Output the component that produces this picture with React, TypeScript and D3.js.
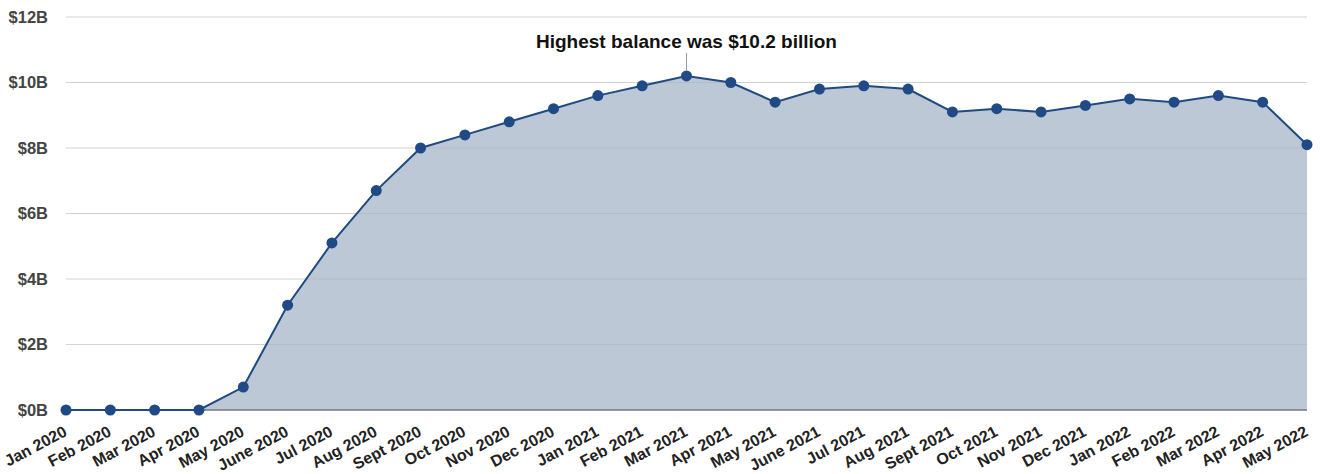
import React from "react";
import * as d3 from "d3";

const months = [
  "Jan 2020","Feb 2020","Mar 2020","Apr 2020","May 2020","June 2020","Jul 2020","Aug 2020","Sept 2020","Oct 2020","Nov 2020","Dec 2020",
  "Jan 2021","Feb 2021","Mar 2021","Apr 2021","May 2021","June 2021","Jul 2021","Aug 2021","Sept 2021","Oct 2021","Nov 2021","Dec 2021",
  "Jan 2022","Feb 2022","Mar 2022","Apr 2022","May 2022",
];
const balances = [
  0, 0, 0, 0, 0.7, 3.2, 5.1, 6.7, 8.0, 8.4, 8.8, 9.2,
  9.6, 9.9, 10.2, 10.0, 9.4, 9.8, 9.9, 9.8, 9.1, 9.2, 9.1, 9.3,
  9.5, 9.4, 9.6, 9.4, 8.1,
];
const yTicks = [0, 2, 4, 6, 8, 10, 12];
const yTickLabels = ["$0B", "$2B", "$4B", "$6B", "$8B", "$10B", "$12B"];
const annotationText = "Highest balance was $10.2 billion";
const annotationIndex = 14;

export default function App() {
  const W = 1320, H = 474;
  const left = 66, right = 1307, top = 17, bottom = 410;
  const x = d3.scalePoint<string>().domain(months).range([left, right]);
  const y = d3.scaleLinear().domain([0, 12]).range([bottom, top]);
  const data = months.map((m, i) => ({ m, v: balances[i] }));
  const area = d3.area<{ m: string; v: number }>().x(d => x(d.m)!).y0(y(0)).y1(d => y(d.v));
  const line = d3.line<{ m: string; v: number }>().x(d => x(d.m)!).y(d => y(d.v));
  const font = "'Liberation Sans', Arial, Helvetica, sans-serif";
  const ax = x(months[annotationIndex])!;
  const ay = y(balances[annotationIndex]);
  return (
    <svg width={W} height={H} style={{ position: "absolute", left: 0, top: 0, background: "#fff" }} fontFamily={font}>
      <path d={area(data)!} fill="#bcc8d5" />
      {yTicks.filter(t => t > 0).map(t => (
        <line key={t} x1={left} x2={right} y1={y(t)} y2={y(t)} stroke="#b0b4ba" strokeOpacity={0.6} strokeWidth={1} />
      ))}
      <line x1={left} x2={right} y1={y(0)} y2={y(0)} stroke="#777" strokeWidth={1.5} />
      {yTicks.map((t, i) => (
        <text key={t} x={48} y={y(t)} dy="0.35em" textAnchor="end" fontSize={16.5} fontWeight="bold" fill="#444">{yTickLabels[i]}</text>
      ))}
      <path d={line(data)!} fill="none" stroke="#1f4a85" strokeWidth={2} />
      {data.map(d => (
        <circle key={d.m} cx={x(d.m)} cy={y(d.v)} r={5.5} fill="#1f4a85" />
      ))}
      {months.map(m => (
        <text key={m} transform={`translate(${x(m)! + 2},${bottom + 25}) rotate(-28)`} textAnchor="end" fontSize={16} fontWeight="bold" fill="#222">{m}</text>
      ))}
      <line x1={ax} x2={ax} y1={53} y2={ay - 5} stroke="#999" strokeWidth={1} />
      <text x={ax} y={48} textAnchor="middle" fontSize={19} fontWeight="bold" fill="#111">{annotationText}</text>
    </svg>
  );
}
